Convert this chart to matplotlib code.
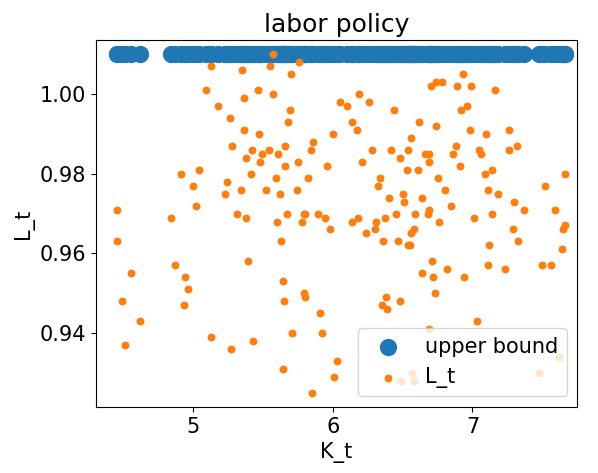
import matplotlib
matplotlib.use("Agg")
import matplotlib.pyplot as plt

K_t = [4.45,4.45,4.49,4.51,4.55,4.62,4.84,4.87,4.91,4.94,4.93,4.96,5.0,5.04,5.02,5.09,5.13,5.13,5.18,5.23,5.24,5.26,5.27,5.28,5.31,5.34,5.36,5.35,5.36,5.38,5.38,5.39,5.41,5.42,5.43,5.46,5.47,5.48,5.49,5.52,5.54,5.55,5.57,5.57,5.59,5.60,5.61,5.62,5.63,5.64,5.64,5.65,5.66,5.66,5.67,5.68,5.69,5.70,5.71,5.74,5.75,5.76,5.78,5.79,5.80,5.79,5.80,5.82,5.84,5.85,5.86,5.89,5.91,5.92,5.94,5.96,5.98,6.0,6.01,6.03,6.05,6.10,6.14,6.14,6.17,6.18,6.21,6.24,6.26,6.28,6.30,6.31,6.32,6.34,6.35,6.36,6.37,6.38,6.40,6.42,6.44,6.45,6.47,6.48,6.48,6.49,6.50,6.51,6.53,6.54,6.54,6.55,6.56,6.56,6.57,6.58,6.58,6.59,6.61,6.62,6.64,6.64,6.66,6.68,6.69,6.69,6.69,6.70,6.71,6.72,6.73,6.74,6.74,6.75,6.76,6.78,6.80,6.82,6.85,6.86,6.88,6.89,6.91,6.92,6.94,6.96,6.98,6.99,7.01,7.03,7.05,7.06,7.09,7.10,7.11,7.11,7.12,7.14,7.14,7.16,7.18,7.23,7.26,7.29,7.30,7.32,7.33,7.37,7.50,7.52,7.56,7.59,7.62,7.64,7.65,7.66,7.66,7.26,6.19,7.48,6.69,6.93,6.39]
L_t = [0.971,0.963,0.948,0.937,0.955,0.943,0.969,0.957,0.980,0.954,0.947,0.951,0.977,0.981,0.972,1.001,1.007,0.939,0.997,0.975,0.978,0.994,0.936,0.987,0.970,0.976,0.999,1.006,0.991,0.984,0.969,0.958,0.980,0.986,0.938,1.001,0.990,0.983,0.985,0.976,0.986,1.007,1.000,1.010,0.979,0.968,0.985,0.975,0.963,0.931,0.953,0.948,0.982,0.987,0.970,0.993,0.996,1.005,0.940,0.976,0.983,1.008,0.968,0.970,0.970,0.950,0.949,0.979,0.986,0.925,0.988,0.970,0.945,0.940,0.969,0.982,0.966,0.990,0.929,0.933,0.998,0.997,0.993,0.968,0.991,0.969,0.983,0.965,0.998,0.986,0.966,0.968,0.977,0.979,0.947,0.963,0.969,0.949,0.974,0.986,0.996,0.970,0.963,0.984,0.948,0.928,0.975,0.973,0.981,0.986,0.962,0.962,0.989,0.965,0.930,0.928,0.966,0.970,0.981,0.993,0.955,0.974,0.985,0.970,0.983,0.971,0.985,1.002,0.958,0.954,0.950,1.003,0.992,0.979,0.968,1.003,0.976,0.956,0.972,0.985,0.987,1.002,0.982,0.996,0.954,0.997,0.991,1.002,0.969,0.943,0.986,0.985,0.980,0.990,0.976,0.957,0.962,0.981,0.970,1.001,0.975,0.956,0.986,0.966,0.973,0.987,0.963,0.971,0.957,0.977,0.957,0.971,0.934,0.961,0.966,0.967,0.980,0.991,1.000,0.930,0.941,1.005,0.946]
upper_bound = [1.01] * len(K_t)

plt.rcParams['font.size'] = 15
fig, ax = plt.subplots(figsize=(5.98, 4.73), dpi=100)
ax.scatter(K_t, upper_bound, s=130, color='#1f77b4', label='upper bound')
ax.scatter(K_t, L_t, s=22, color='#ff7f0e', label='L_t')
ax.set_title('labor policy')
ax.set_xlabel('K_t')
ax.set_ylabel('L_t')
ax.set_xlim(4.30, 7.75)
ax.set_ylim(0.9215, 1.0135)
ax.set_xticks([5, 6, 7])
ax.set_yticks([0.94, 0.96, 0.98, 1.00])
ax.legend(loc='lower right')
fig.subplots_adjust(left=0.16, right=0.965, top=0.915, bottom=0.14)
fig.savefig('out.png')
